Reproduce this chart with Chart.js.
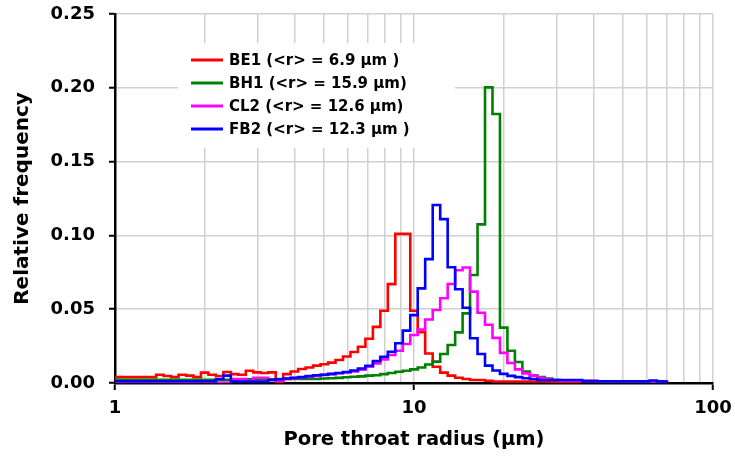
<!DOCTYPE html>
<html><head><meta charset="utf-8">
<script src="https://cdn.jsdelivr.net/npm/chart.js@4.4.0/dist/chart.umd.min.js"></script>
<style>html,body{margin:0;padding:0;background:#fff;overflow:hidden}</style>
</head><body>
<canvas id="c" width="735" height="459" style="width:735px;height:459px"></canvas>
<script>
// Bin centres of the pore-throat radius histogram (µm)
const radius = [1.000,1.059,1.122,1.189,1.259,1.334,1.413,1.496,1.585,1.679,
1.778,1.884,1.995,2.113,2.239,2.371,2.512,2.661,2.818,2.985,
3.162,3.350,3.548,3.758,3.981,4.217,4.467,4.732,5.012,5.309,
5.623,5.957,6.310,6.683,7.079,7.499,7.943,8.414,8.913,9.441,
10.00,10.59,11.22,11.89,12.59,13.34,14.13,14.96,15.85,16.79,
17.78,18.84,19.95,21.13,22.39,23.71,25.12,26.61,28.18,29.85,
31.62,33.50,35.48,37.58,39.81,42.17,44.67,47.32,50.12,53.09,
56.23,59.57,63.10,66.83,70.79];

const be1 = [0.004,0.004,0.004,0.004,0.004,0.004,0.0056,0.0047,0.004,0.0056,
0.005,0.004,0.007,0.0056,0.0047,0.0075,0.006,0.0056,0.0083,0.0072,
0.0068,0.0072,0.0,0.006,0.0078,0.0095,0.0105,0.0118,0.0127,0.0138,
0.0156,0.018,0.021,0.0246,0.030,0.038,0.049,0.067,0.101,0.101,
0.049,0.0345,0.020,0.011,0.007,0.005,0.0036,0.0027,0.002,0.002,
0.0015,0.001,0.001,0.001,0.001,0.001,0.001,0.001,0.001,0.0006,
0.0006,0.0006,0.0006,0.0006,0.0006,0.0006,0.0006,0.0006,0.0006,0.0006,
0.0006,0.0006,0.0006,0.0006,0.0006];

const bh1 = [0.0022,0.0022,0.0022,0.0022,0.0022,0.0022,0.0022,0.0022,0.0022,0.0022,
0.0022,0.0022,0.0022,0.0022,0.0022,0.0022,0.0022,0.0025,0.0025,0.0025,
0.0025,0.0025,0.0027,0.0027,0.0027,0.0027,0.0027,0.0027,0.003,0.0032,
0.0035,0.0039,0.0042,0.0045,0.005,0.0053,0.006,0.0068,0.0076,0.0083,
0.0092,0.0105,0.0125,0.0145,0.0196,0.0257,0.0343,0.0472,0.0732,0.1075,
0.2003,0.1822,0.0375,0.0218,0.0142,0.0077,0.005,0.004,0.003,0.002,
0.0015,0.0015,0.0015,0.0015,0.0015,0.0008,0.0008,0.0008,0.0008,0.0008,
0.0008,0.0008,0.0008,0.0008,0.0008];

const cl2 = [0.0003,0.0003,0.0003,0.0003,0.0003,0.0003,0.0003,0.0003,0.0003,0.0003,
0.0003,0.0003,0.0003,0.0003,0.0003,0.0003,0.0027,0.0027,0.0015,0.0036,
0.0036,0.002,0.0015,0.0027,0.0033,0.0038,0.0042,0.0048,0.0055,0.006,
0.0066,0.0072,0.0078,0.009,0.011,0.0133,0.016,0.019,0.0219,0.0264,
0.0325,0.0362,0.043,0.0495,0.0574,0.0671,0.0764,0.0783,0.0619,0.0476,
0.0395,0.0306,0.0204,0.0135,0.0092,0.0065,0.005,0.0035,0.0025,0.002,
0.0015,0.0015,0.0015,0.0015,0.0015,0.001,0.001,0.001,0.001,0.001,
0.001,0.001,0.001,0.001,0.001];

const fb2 = [0.0012,0.0012,0.0012,0.0012,0.0012,0.0012,0.0012,0.0012,0.0012,0.0012,
0.0012,0.0012,0.0012,0.0012,0.0027,0.005,0.001,0.001,0.001,0.001,
0.001,0.002,0.0025,0.003,0.0036,0.004,0.0047,0.0052,0.0056,0.0062,
0.0068,0.0075,0.0085,0.0098,0.0117,0.0149,0.0178,0.0212,0.0269,0.0355,
0.046,0.0641,0.0839,0.1206,0.111,0.0784,0.0635,0.051,0.0303,0.0196,
0.0118,0.0085,0.0062,0.0048,0.004,0.0032,0.0027,0.002,0.002,0.002,
0.002,0.002,0.002,0.0011,0.0011,0.0011,0.0011,0.0011,0.0011,0.0011,
0.0011,0.0011,0.0017,0.0011,0.0008];

const seriesLabels = ['BE1 (<r> = 6.9 µm )','BH1 (<r> = 15.9 µm)','CL2 (<r> = 12.6 µm)','FB2 (<r> = 12.3 µm )'];
const xGridValues = [1,2,3,4,5,6,7,8,9,10,20,30,40,50,60,70,80,90,100];
const xLabelValues = [1,10,100];
const yTickStep = 0.05;

const FAMILY = "'DejaVu Sans', sans-serif";
const GRID = '#d0d0d0';
const toXY = vals => vals.map((v,i) => ({x: radius[i], y: v}));
const noOverflow = s => { s.paddingTop = 0; s.paddingBottom = 0; s.paddingLeft = 0; s.paddingRight = 0; };

const legendPlugin = {
  id: 'boxLegend',
  beforeDatasetsDraw(chart) {
    const ctx = chart.ctx;
    ctx.save();
    ctx.fillStyle = '#ffffff';
    ctx.fillRect(178, 43, 277, 105);
    ctx.font = "bold 15px " + FAMILY;
    ctx.textBaseline = 'middle';
    ctx.textAlign = 'left';
    chart.data.datasets.forEach((ds, i) => {
      const y = 60 + i * 23;
      ctx.strokeStyle = ds.borderColor;
      ctx.lineWidth = 3;
      ctx.beginPath(); ctx.moveTo(191, y); ctx.lineTo(223, y); ctx.stroke();
      ctx.fillStyle = '#000';
      ctx.fillText(ds.label, 229, y + 1);
    });
    ctx.restore();
  }
};

new Chart(document.getElementById('c'), {
  type: 'line',
  data: {
    datasets: [
      {label: seriesLabels[0], data: toXY(be1), borderColor: '#ff0000', order: 3},
      {label: seriesLabels[1], data: toXY(bh1), borderColor: '#008000', order: 2},
      {label: seriesLabels[2], data: toXY(cl2), borderColor: '#ff00ff', order: 1},
      {label: seriesLabels[3], data: toXY(fb2), borderColor: '#0000ff', order: 0}
    ]
  },
  options: {
    responsive: false, animation: false, devicePixelRatio: 1,
    layout: {padding: {top: 14, right: 22, left: 0, bottom: 0}},
    plugins: {legend: {display: false}, tooltip: {enabled: false}},
    elements: {point: {radius: 0}, line: {borderWidth: 2.6, stepped: 'middle', tension: 0, fill: false}},
    scales: {
      x: {
        type: 'logarithmic', min: 1, max: 100,
        afterBuildTicks: s => { s.ticks = xGridValues.map(v => ({value: v, major: xLabelValues.includes(v)})); },
        ticks: {autoSkip: false, maxRotation: 0, minRotation: 0, color: '#000', padding: 8,
          font: {family: FAMILY, size: 18, weight: 'bold'},
          callback: v => xLabelValues.includes(v) ? String(v) : ''},
        grid: {color: c => (c.tick && c.tick.value === 1) ? 'rgba(0,0,0,0)' : GRID, lineWidth: 1.5,
          tickColor: c => (c.tick && xLabelValues.includes(c.tick.value)) ? '#000' : 'rgba(0,0,0,0)',
          tickLength: 7, tickWidth: 2},
        border: {color: '#000', width: 2.5},
        title: {display: true, text: 'Pore throat radius (µm)', color: '#000',
          font: {family: FAMILY, size: 19.5, weight: 'bold'}, padding: {top: 0, bottom: 7}},
        afterFit: s => { s.height = 76; noOverflow(s); }
      },
      y: {
        min: 0, max: 0.25,
        ticks: {stepSize: yTickStep, color: '#000', padding: 14,
          font: {family: FAMILY, size: 18, weight: 'bold'},
          callback: v => Number(v).toFixed(2)},
        grid: {color: c => (c.tick && c.tick.value === 0) ? 'rgba(0,0,0,0)' : GRID, lineWidth: 1.5,
          tickColor: '#000', tickLength: 6, tickWidth: 2},
        border: {color: '#000', width: 2.5},
        title: {display: true, text: 'Relative frequency', color: '#000',
          font: {family: FAMILY, size: 20, weight: 'bold'}, padding: {top: 11, bottom: 0}},
        afterFit: s => { s.width = 115; noOverflow(s); }
      }
    }
  },
  plugins: [legendPlugin]
});
</script>
</body></html>
